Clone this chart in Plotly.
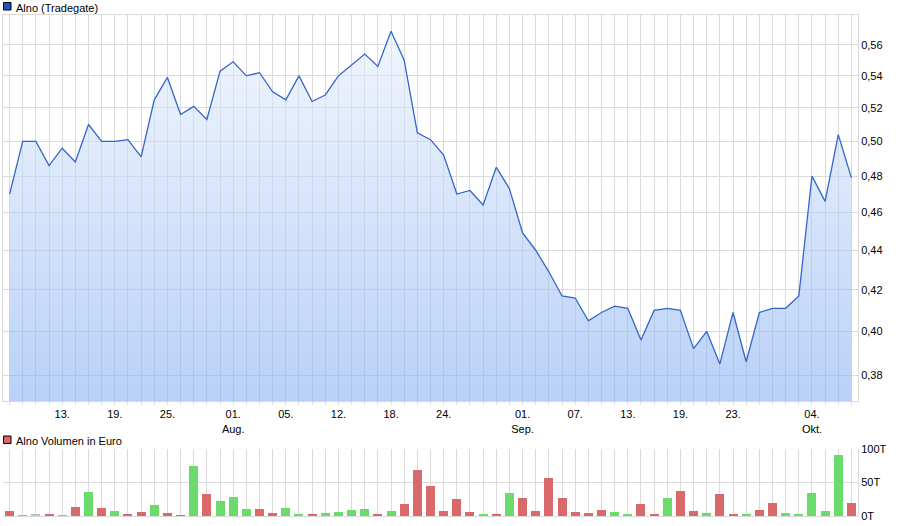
import math
import plotly.graph_objects as go

# Price series (Tradegate), one value per trading day
price = [0.470, 0.500, 0.500, 0.486, 0.496, 0.488, 0.510, 0.500, 0.500, 0.501,
         0.491, 0.525, 0.539, 0.516, 0.521, 0.513, 0.543, 0.549, 0.540, 0.542,
         0.530, 0.525, 0.540, 0.524, 0.528, 0.540, 0.547, 0.554, 0.546, 0.569,
         0.550, 0.505, 0.501, 0.492, 0.470, 0.472, 0.464, 0.485, 0.473, 0.449,
         0.440, 0.429, 0.417, 0.416, 0.405, 0.409, 0.412, 0.411, 0.396, 0.410,
         0.411, 0.410, 0.392, 0.400, 0.385, 0.409, 0.386, 0.409, 0.411, 0.411,
         0.417, 0.480, 0.466, 0.504, 0.479]

# Volume in thousand euro
volume = [7.5, 1, 3, 3, 1, 14, 36, 12.5, 7.5, 2,
          6.5, 16.5, 4.5, 1, 75, 33, 22.5, 29, 11, 11,
          5, 12.5, 3.5, 2, 5, 6.5, 9, 10.5, 3.5, 7.5,
          18.5, 68, 45.5, 7.5, 26, 6, 2, 2, 35, 27.5,
          7.5, 56, 27.5, 6, 4.5, 9, 6, 3.5, 18, 2,
          27.5, 37.5, 7.5, 4.5, 33.5, 3, 2, 9, 19.5, 4.5,
          3, 35, 7.5, 91.5, 19.5]

# day direction: u = up, d = down, f = unchanged
direction = list("dufdudududdudduduuudduu" + "duuuudud" + "dddddududdddddd" + "uuddudduddudduuuuudud")

date_ticks = {4: "13.", 8: "19.", 12: "25.", 17: "01.<br>Aug.", 21: "05.", 25: "12.",
              29: "18.", 33: "24.", 39: "01.<br>Sep.", 43: "07.", 47: "13.", 51: "19.",
              55: "23.", 61: "04.<br>Okt."}

price_ticks = [0.38, 0.40, 0.42, 0.44, 0.46, 0.48, 0.50, 0.52, 0.54, 0.56]
vol_ticks = [0, 50, 100]
vol_labels = ["0T", "50T", "100T"]

y_min, y_max = 0.3686, 0.580

days = list(range(len(price)))
bar_colors = {"u": "#6bdb6b", "d": "#d9696b", "f": "#c0c0c0"}
grid = "#dadada"

fig = go.Figure()

# invisible base so the area fill can sit on a log axis
fig.add_trace(go.Scatter(x=days, y=[y_min] * len(days), mode="lines",
                         line=dict(width=0), hoverinfo="skip", showlegend=False))
fig.add_trace(go.Scatter(
    x=days, y=price, mode="lines", fill="tonexty",
    line=dict(color="#3366cc", width=1.3),
    fillgradient=dict(type="vertical", start=y_min, stop=y_max,
                      colorscale=[[0, "rgba(132,174,241,0.57)"], [1, "rgba(236,242,253,0.57)"]]),
    showlegend=False))

fig.add_trace(go.Bar(x=days, y=volume, xaxis="x2", yaxis="y2", width=0.68,
                     marker=dict(color=[bar_colors[d] for d in direction[:len(volume)]], line=dict(width=0)),
                     showlegend=False))

font = dict(family="Liberation Sans, Arial, sans-serif", size=11, color="#000000")

fig.update_layout(
    width=900, height=526,
    margin=dict(l=3, r=42, t=15, b=10),
    paper_bgcolor="white", plot_bgcolor="white",
    separators=",.",
    font=font,
    bargap=0,
    xaxis=dict(domain=[0, 1], range=[-0.5, 64.5], tickvals=days,
               ticktext=[date_ticks.get(d, "") for d in days],
               ticks="outside", ticklen=3, tickcolor=grid, tickangle=0,
               showgrid=True, gridcolor=grid, gridwidth=1,
               showline=True, linecolor=grid, mirror=True, zeroline=False,
               automargin=False, anchor="y"),
    yaxis=dict(domain=[0.2295, 1], type="log",
               range=[math.log10(y_min), math.log10(y_max)],
               side="right", tickvals=price_ticks, tickformat=".2f",
               showgrid=True, gridcolor=grid, gridwidth=1,
               showline=True, linecolor=grid, mirror=True, zeroline=False,
               automargin=False, anchor="x"),
    xaxis2=dict(domain=[0, 1], range=[-0.5, 64.5], tickvals=days, showticklabels=False,
                showgrid=True, gridcolor=grid, gridwidth=1,
                showline=True, linecolor=grid, zeroline=False,
                automargin=False, anchor="y2"),
    yaxis2=dict(domain=[0, 0.1337], range=[0, 100], side="right",
                tickvals=vol_ticks, ticktext=vol_labels,
                showgrid=True, gridcolor=grid, gridwidth=1,
                showline=True, linecolor=grid, zeroline=False,
                automargin=False, anchor="x2"),
)

# legend-style headers: small coloured square and a caption above each panel
fig.add_shape(type="rect", xref="paper", yref="paper", xsizemode="pixel", ysizemode="pixel",
              xanchor=0, yanchor=1, x0=0.5, x1=8, y0=5, y1=12.5,
              line=dict(color="black", width=1), fillcolor="#2255bb")
fig.add_shape(type="rect", xref="paper", yref="paper", xsizemode="pixel", ysizemode="pixel",
              xanchor=0, yanchor=0.1337, x0=0.5, x1=8, y0=5.5, y1=13,
              line=dict(color="black", width=1), fillcolor="#d9696b")
fig.add_annotation(text="Alno (Tradegate)", xref="paper", yref="paper", x=0, xshift=11, y=1.0,
                   xanchor="left", yanchor="bottom", yshift=-1, showarrow=False, font=font)
fig.add_annotation(text="Alno Volumen in Euro", xref="paper", yref="paper", x=0, xshift=11, y=0.1337,
                   xanchor="left", yanchor="bottom", showarrow=False, font=font)

# drop the browser's default body margin so the chart sits at the window corner
fig.write_html("out.html", config={"displayModeBar": False},
               post_script="document.body.style.margin='0';")
